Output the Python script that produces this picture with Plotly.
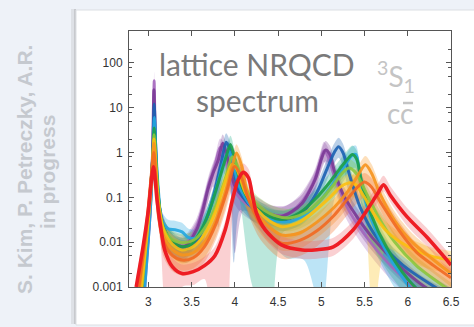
import plotly.graph_objects as go

# ---------------- data ----------------
x_ticks = [3, 3.5, 4, 4.5, 5, 5.5, 6, 6.5]
x_ticktext = ["3", "3.5", "4", "4.5", "5", "5.5", "6", "6.5"]
y_ticks = [0.001, 0.01, 0.1, 1, 10, 100]
y_ticktext = ["0.001", "0.01", "0.1", "1", "10", "100"]
y_minor = [0.002, 0.005, 0.008, 0.02, 0.05, 0.08, 0.2, 0.5, 0.8, 2, 5, 8, 20, 50, 80, 200, 500]

purple2_x = [2.96, 3.03, 3.055, 3.068, 3.08, 3.1, 3.14, 3.2, 3.3, 3.42, 3.55, 3.63, 3.7, 3.77, 3.83, 3.87, 3.92, 3.97, 4.05, 4.2, 4.4, 4.6, 4.75, 4.9, 4.98, 5.03, 5.08, 5.15, 5.3, 5.5, 5.8, 6.2]
purple2_y = [0.001, 0.08, 2.0, 40, 3.0, 0.25, 0.045, 0.017, 0.01, 0.009, 0.02, 0.06, 0.2, 0.5, 1.3, 1.1, 0.4, 0.18, 0.1, 0.06, 0.042, 0.042, 0.07, 0.2, 0.55, 1.1, 0.8, 0.3, 0.06, 0.015, 0.003, 0.0006]
purple2_dn = [0.2, 0.2, 0.2, 0.2, 0.2, 0.2, 0.3, 0.3, 0.3, 0.3, 0.3, 0.3, 0.3, 0.3, 1.5, 0.5, 0.3, 0.3, 0.3, 0.3, 0.25, 0.25, 0.25, 0.25, 0.25, 0.25, 0.3, 0.3, 0.3, 0.3, 0.3, 0.3]

purple_x = [2.95, 3.02, 3.05, 3.065, 3.08, 3.1, 3.14, 3.2, 3.3, 3.42, 3.56, 3.63, 3.69, 3.75, 3.81, 3.86, 3.9, 3.95, 4.0, 4.1, 4.25, 4.43, 4.54, 4.66, 4.78, 4.93, 5.0, 5.05, 5.1, 5.15, 5.25, 5.4, 5.6, 5.9, 6.2, 6.5]
purple_y = [0.001, 0.05, 1.0, 25, 2.0, 0.2, 0.04, 0.015, 0.009, 0.008, 0.019, 0.05, 0.15, 0.35, 0.68, 1.6, 1.0, 0.4, 0.18, 0.1, 0.065, 0.041, 0.038, 0.048, 0.074, 0.25, 0.7, 1.14, 0.9, 0.4, 0.12, 0.04, 0.012, 0.003, 0.001, 0.0005]
purple_dn = [0.2, 0.2, 0.2, 0.2, 0.2, 0.2, 0.3, 0.3, 0.3, 0.3, 0.3, 0.3, 0.3, 0.3, 1.5, 0.5, 0.3, 0.3, 1.5, 0.3, 0.25, 0.25, 0.25, 0.25, 0.25, 0.25, 0.25, 0.25, 0.25, 0.3, 0.3, 0.3, 0.3, 0.3, 0.3, 0.3]

blue_x = [2.94, 3.0, 3.05, 3.068, 3.085, 3.11, 3.15, 3.22, 3.32, 3.45, 3.58, 3.68, 3.76, 3.84, 3.9, 3.94, 3.99, 4.06, 4.2, 4.4, 4.6, 4.8, 4.95, 5.07, 5.15, 5.2, 5.25, 5.33, 5.45, 5.65, 5.95, 6.5]
blue_y = [0.001, 0.03, 0.8, 12, 1.5, 0.15, 0.035, 0.014, 0.008, 0.007, 0.012, 0.035, 0.12, 0.55, 1.7, 1.2, 0.35, 0.13, 0.06, 0.035, 0.032, 0.05, 0.13, 0.45, 1.0, 1.35, 1.0, 0.3, 0.06, 0.012, 0.003, 0.0006]
blue_dn = [0.2, 0.2, 0.2, 0.2, 0.2, 0.3, 0.3, 0.3, 0.3, 0.3, 0.3, 0.3, 0.3, 0.3, 0.3, 0.5, 2.0, 0.4, 0.3, 0.25, 0.25, 0.25, 0.25, 0.25, 0.25, 0.25, 0.3, 0.5, 0.5, 0.3, 0.3, 0.3]

cyan_x = [2.96, 3.02, 3.055, 3.07, 3.09, 3.12, 3.155, 3.23, 3.31, 3.39, 3.46, 3.54, 3.62, 3.72, 3.8, 3.87, 3.93, 3.98, 4.05, 4.2, 4.4, 4.6, 4.8, 5.0, 5.15, 5.27, 5.35, 5.4, 5.45, 5.52, 5.65, 5.85, 6.1]
cyan_y = [0.001, 0.04, 0.8, 6, 0.9, 0.12, 0.031, 0.02, 0.019, 0.017, 0.0128, 0.0123, 0.02, 0.06, 0.2, 0.6, 1.1, 0.6, 0.18, 0.06, 0.033, 0.028, 0.04, 0.09, 0.22, 0.5, 0.85, 0.9, 0.3, 0.07, 0.015, 0.003, 0.0006]
cyan_dn = [0.2, 0.2, 0.2, 0.2, 0.2, 0.2, 0.1, 0.1, 0.1, 0.1, 0.1, 0.15, 0.2, 0.3, 0.3, 0.3, 0.3, 0.3, 0.3, 0.3, 0.5, 0.8, 1.0, 2.5, 0.4, 0.3, 0.3, 0.3, 0.5, 0.5, 0.5, 0.5, 0.5]

green_x = [2.92, 3.0, 3.05, 3.068, 3.09, 3.12, 3.16, 3.25, 3.38, 3.5, 3.62, 3.72, 3.82, 3.9, 3.95, 4.0, 4.07, 4.2, 4.4, 4.55, 4.75, 4.95, 5.1, 5.22, 5.3, 5.36, 5.41, 5.47, 5.58, 5.75, 6.0, 6.3]
green_y = [0.001, 0.04, 0.7, 3.5, 0.6, 0.09, 0.025, 0.012, 0.008, 0.009, 0.02, 0.06, 0.25, 0.8, 1.5, 0.7, 0.2, 0.07, 0.038, 0.032, 0.045, 0.1, 0.22, 0.45, 0.7, 0.9, 0.7, 0.2, 0.04, 0.008, 0.0015, 0.0004]
green_dn = [0.2, 0.2, 0.2, 0.2, 0.2, 0.2, 0.2, 0.2, 0.2, 0.25, 0.3, 0.3, 0.3, 0.3, 0.3, 0.3, 0.5, 1.8, 2.5, 0.3, 0.3, 0.3, 0.3, 0.3, 0.3, 0.3, 0.3, 0.5, 0.6, 0.5, 0.4, 0.4]

yg_x = [2.93, 3.0, 3.05, 3.067, 3.09, 3.12, 3.17, 3.26, 3.4, 3.55, 3.68, 3.8, 3.9, 3.97, 4.03, 4.12, 4.25, 4.45, 4.65, 4.85, 5.0, 5.15, 5.25, 5.32, 5.4, 5.5, 5.65, 5.85, 6.1, 6.5]
yg_y = [0.001, 0.035, 0.6, 2.5, 0.5, 0.08, 0.022, 0.012, 0.0096, 0.012, 0.025, 0.08, 0.3, 0.8, 0.5, 0.16, 0.07, 0.04, 0.035, 0.05, 0.09, 0.2, 0.36, 0.45, 0.35, 0.15, 0.04, 0.01, 0.003, 0.0008]
yg_dn = [0.2, 0.2, 0.2, 0.2, 0.2, 0.2, 0.3, 0.3, 0.3, 0.3, 0.3, 0.3, 0.3, 0.3, 0.3, 0.3, 0.3, 0.3, 0.3, 0.3, 0.3, 0.3, 0.3, 0.3, 0.3, 0.3, 0.4, 0.4, 0.4, 0.4]

yel_x = [2.92, 3.0, 3.05, 3.066, 3.09, 3.12, 3.18, 3.28, 3.39, 3.52, 3.65, 3.78, 3.88, 3.97, 4.03, 4.12, 4.25, 4.4, 4.55, 4.75, 4.95, 5.1, 5.22, 5.32, 5.4, 5.5, 5.6, 5.75, 6.0, 6.25, 6.5]
yel_y = [0.001, 0.03, 0.5, 2.0, 0.4, 0.07, 0.018, 0.009, 0.0067, 0.008, 0.015, 0.05, 0.2, 0.55, 0.4, 0.13, 0.055, 0.03, 0.022, 0.028, 0.055, 0.1, 0.17, 0.21, 0.19, 0.1, 0.045, 0.018, 0.008, 0.005, 0.004]
yel_dn = [0.2, 0.2, 0.2, 0.2, 0.2, 0.2, 0.3, 0.3, 0.3, 0.3, 0.3, 0.3, 0.3, 0.3, 0.3, 0.3, 0.3, 0.3, 0.3, 0.3, 0.3, 0.3, 0.3, 0.3, 0.3, 0.4, 2.5, 0.4, 0.3, 0.3, 0.3]

org_x = [2.9, 2.98, 3.04, 3.065, 3.09, 3.12, 3.18, 3.28, 3.39, 3.52, 3.65, 3.78, 3.9, 3.97, 4.02, 4.08, 4.16, 4.31, 4.54, 4.75, 4.95, 5.15, 5.3, 5.42, 5.51, 5.58, 5.68, 5.85, 6.05, 6.3, 6.5]
org_y = [0.001, 0.02, 0.35, 1.6, 0.3, 0.05, 0.013, 0.0068, 0.0052, 0.0058, 0.01, 0.03, 0.15, 0.5, 0.97, 0.5, 0.1, 0.032, 0.0145, 0.016, 0.028, 0.06, 0.13, 0.3, 0.53, 0.35, 0.12, 0.03, 0.01, 0.004, 0.002]
org_dn = [0.2, 0.2, 0.2, 0.2, 0.2, 0.25, 0.35, 0.35, 0.35, 0.35, 0.35, 0.35, 0.35, 0.35, 0.35, 0.35, 0.35, 0.35, 0.35, 0.35, 0.35, 0.35, 0.35, 0.35, 0.35, 0.35, 0.35, 0.35, 0.35, 0.3, 0.3]

or2_x = [2.89, 2.97, 3.03, 3.064, 3.09, 3.12, 3.18, 3.28, 3.39, 3.52, 3.65, 3.78, 3.9, 4.0, 4.07, 4.15, 4.3, 4.54, 4.75, 4.95, 5.15, 5.3, 5.42, 5.5, 5.58, 5.7, 5.9, 6.1, 6.3, 6.5]
or2_y = [0.001, 0.015, 0.25, 1.0, 0.2, 0.035, 0.01, 0.005, 0.004, 0.0045, 0.008, 0.025, 0.12, 0.49, 0.3, 0.1, 0.025, 0.0095, 0.011, 0.018, 0.04, 0.09, 0.17, 0.22, 0.17, 0.07, 0.018, 0.006, 0.003, 0.0016]
or2_dn = [0.2, 0.2, 0.2, 0.2, 0.2, 0.25, 0.35, 0.35, 0.35, 0.35, 0.35, 0.35, 0.35, 0.35, 0.35, 0.35, 0.35, 0.35, 0.35, 0.35, 0.35, 0.35, 0.35, 0.35, 0.35, 0.35, 0.35, 0.3, 0.3, 0.3]

red_x = [2.86, 2.94, 3.0, 3.06, 3.1, 3.14, 3.19, 3.28, 3.39, 3.52, 3.65, 3.77, 3.89, 3.98, 4.04, 4.1, 4.16, 4.2, 4.25, 4.35, 4.54, 4.78, 4.95, 5.14, 5.37, 5.53, 5.65, 5.72, 5.8, 5.99, 6.22, 6.5]
red_y = [0.001, 0.008, 0.05, 0.48, 0.09, 0.024, 0.0067, 0.0028, 0.002, 0.0022, 0.003, 0.005, 0.019, 0.1, 0.25, 0.36, 0.27, 0.12, 0.045, 0.019, 0.0087, 0.0067, 0.0068, 0.0079, 0.019, 0.052, 0.12, 0.19, 0.11, 0.037, 0.013, 0.0031]
red_dn = [0.1, 0.1, 0.1, 0.15, 0.2, 0.3, 1.5, 3.0, 0.3, 0.3, 0.3, 2.5, 2.5, 0.3, 0.2, 0.15, 0.15, 0.2, 0.2, 0.2, 0.2, 0.2, 0.2, 0.2, 0.2, 0.2, 0.2, 0.15, 0.15, 0.2, 0.2, 0.2]

# ---------------- styling ----------------
UP = 0.2  # band extends this many decades above each curve
CURVES = [
    (purple2_x, purple2_y, purple2_dn, "#a567bd", "#a567bd", 2.8),
    (purple_x, purple_y, purple_dn, "#7b3a96", "#7b3a96", 3.0),
    (blue_x, blue_y, blue_dn, "#1b62b3", "#1b62b3", 3.0),
    (cyan_x, cyan_y, cyan_dn, "#22a7e0", "#22a7e0", 3.0),
    (green_x, green_y, green_dn, "#1c9f48", "#1fae8c", 3.0),
    (yg_x, yg_y, yg_dn, "#8cc63e", "#8cc63e", 3.0),
    (yel_x, yel_y, yel_dn, "#fcc010", "#fcc010", 3.0),
    (org_x, org_y, org_dn, "#f7941d", "#f7941d", 3.0),
    (or2_x, or2_y, or2_dn, "#f26a22", "#f26a22", 3.0),
    (red_x, red_y, red_dn, "#ee1d24", "#f0626a", 3.6),
]


def rgba(h, a):
    h = h.lstrip("#")
    return "rgba(%d,%d,%d,%.2f)" % (int(h[0:2], 16), int(h[2:4], 16), int(h[4:6], 16), a)


fig = go.Figure()
LS = dict(shape="spline", smoothing=0.8)
for xs, ys, dn, lc, bc, w in CURVES:
    lo = [v / 10 ** d for v, d in zip(ys, dn)]
    hi = [v * 10 ** UP for v in ys]
    fig.add_trace(go.Scatter(x=xs, y=lo, mode="lines", line=dict(width=0, color=bc, **LS),
                             hoverinfo="skip", showlegend=False))
    fig.add_trace(go.Scatter(x=xs, y=hi, mode="lines", line=dict(width=0, color=bc, **LS),
                             fill="tonexty", fillcolor=rgba(bc, 0.3),
                             hoverinfo="skip", showlegend=False))
for xs, ys, dn, lc, bc, w in CURVES:
    fig.add_trace(go.Scatter(x=xs, y=ys, mode="lines",
                             line=dict(width=w, color=lc, **LS),
                             opacity=1.0 if w > 3.2 else 0.9, showlegend=False))

W, H = 474, 327
L, R, T, B = 129, 23, 31, 40
pw, ph = W - L - R, H - T - B


def px(x):
    return (x - L) / pw


def py(y):
    return (H - B - y) / ph


def note(text, x, y, size, color, family="Lato", angle=0):
    return dict(text=text, x=px(x), y=py(y), xref="paper", yref="paper",
                xanchor="center", yanchor="middle", showarrow=False, textangle=angle,
                font=dict(family=family, size=size, color=color))


axis_common = dict(showline=True, linecolor="#555", linewidth=1, mirror="allticks",
                   ticks="inside", ticklen=5, tickcolor="#555", showgrid=False, zeroline=False,
                   tickfont=dict(family="Liberation Sans, Arial", size=12, color="#333"))
fig.update_layout(
    width=W, height=H, margin=dict(l=L, r=R, t=T, b=B, pad=0),
    paper_bgcolor="#eef2f8", plot_bgcolor="white",
    xaxis=dict(range=[2.777, 6.5], tickvals=x_ticks, ticktext=x_ticktext,
               ticklabelstandoff=4, **axis_common),
    yaxis=dict(type="log", range=[-3, 2.71], tickvals=y_ticks, ticktext=y_ticktext,
               minor=dict(tickvals=y_minor, ticks="inside", ticklen=3, tickcolor="#555"),
               ticklabelstandoff=3, **axis_common),
    shapes=[
        dict(type="rect", xref="paper", yref="paper", x0=px(71), x1=px(76), y0=py(324), y1=py(9),
             fillcolor="rgba(150,150,150,0.18)", line_width=0, layer="below"),
        dict(type="rect", xref="paper", yref="paper", x0=px(74), x1=px(76), y0=py(324), y1=py(9),
             fillcolor="rgba(130,130,130,0.25)", line_width=0, layer="below"),
        dict(type="rect", xref="paper", yref="paper", x0=px(76), x1=px(480), y0=py(325), y1=py(10),
             fillcolor="white", line=dict(color="#dcdfe3", width=1), layer="below"),
        dict(type="line", xref="paper", yref="paper", x0=px(403), x1=px(413), y0=py(103), y1=py(103),
             line=dict(color="#c4c4c4", width=2.5)),
    ],
    annotations=[
        note("lattice NRQCD", 256.5, 64, 30, "#7a7a7a"),
        note("spectrum", 257, 100, 30, "#7a7a7a"),
        note("<sup>3</sup>S<sub>1</sub>", 396, 76, 28, "#c4c4c4"),
        note("cc", 400, 113, 28, "#c4c4c4"),
        note("<b>S. Kim, P. Petreczky, A.R.</b>", 24, 170, 21, "#c5c9cf",
             family="Liberation Sans, Arial", angle=-90),
        note("<b>in progress</b>", 47, 172, 21, "#c5c9cf",
             family="Liberation Sans, Arial", angle=-90),
    ],
)
fig.write_html("out.html", config={"displayModeBar": False},
               post_script="document.body.style.margin='0px';")
